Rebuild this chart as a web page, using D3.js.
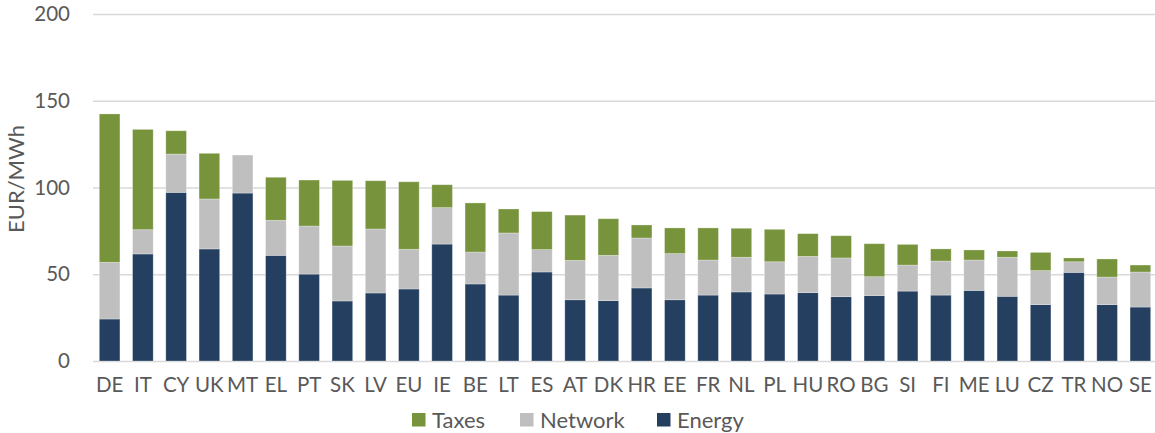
<!DOCTYPE html>
<html>
<head>
<meta charset="utf-8">
<script src="https://cdn.jsdelivr.net/npm/d3@7"></script>
<style>
  body { margin: 0; background: #fff; }
  svg text { font-family: Lato, "Open Sans", sans-serif; fill: #595959; }
</style>
</head>
<body>
<div id="chart"></div>
<script>
// values, EUR/MWh
var countries = ["DE", "IT", "CY", "UK", "MT", "EL", "PT", "SK", "LV", "EU", "IE", "BE", "LT", "ES", "AT", "DK",
  "HR", "EE", "FR", "NL", "PL", "HU", "RO", "BG", "SI", "FI", "ME", "LU", "CZ", "TR", "NO", "SE"];
var energy = [24.2, 61.7, 97.2, 64.6, 96.8, 60.9, 50.1, 34.6, 39.2, 41.5, 67.4, 44.4, 38.0, 51.3, 35.3, 34.8,
  42.1, 35.3, 38.0, 39.8, 38.6, 39.4, 37.1, 37.7, 40.3, 38.0, 40.7, 37.3, 32.5, 51.1, 32.5, 31.1];
var network = [32.7, 14.0, 22.1, 28.8, 21.9, 20.2, 27.7, 31.7, 36.9, 22.9, 21.0, 18.4, 35.8, 12.9, 22.7, 26.1,
  28.8, 26.6, 20.2, 20.0, 18.6, 20.9, 22.3, 10.9, 15.0, 19.6, 17.5, 22.5, 19.6, 6.1, 15.9, 20.2];
var taxes = [85.5, 57.8, 13.4, 26.3, 0, 24.8, 26.5, 37.8, 27.8, 38.9, 13.2, 28.3, 13.8, 21.9, 26.1, 21.1,
  7.5, 14.8, 18.5, 16.7, 18.7, 13.1, 12.8, 19.0, 11.9, 7.0, 5.8, 3.6, 10.5, 2.2, 10.4, 4.0];
var seriesNames = ["Energy", "Network", "Taxes"];
var seriesColors = ["#243F60", "#BFBFBF", "#77933C"];
var legendOrder = ["Taxes", "Network", "Energy"];
var yTicks = [0, 50, 100, 150, 200];

var width = 1155,
  height = 433;
var plotLeft = 93, plotRight = 1157, plotTop = 14, plotBottom = 361;

var svg = d3.select("#chart")
  .append("svg")
  .attr("width", width)
  .attr("height", height);

var rows = countries.map(function(c, i) {
  return { country: c, Energy: energy[i], Network: network[i], Taxes: taxes[i] };
});

var x = d3.scaleBand()
  .domain(countries)
  .range([plotLeft, plotRight])
  .paddingInner(0.38)
  .paddingOuter(0.19);

var y = d3.scaleLinear()
  .domain([0, 200])
  .range([plotBottom, plotTop]);

var color = d3.scaleOrdinal().domain(seriesNames).range(seriesColors);

// gridlines + y tick labels
var yAxis = svg.append("g")
  .attr("transform", "translate(" + plotLeft + ",0)")
  .call(d3.axisLeft(y).tickValues(yTicks).tickSize(-(width - plotLeft)).tickPadding(23));
yAxis.select(".domain").remove();
yAxis.selectAll(".tick line").attr("stroke", "#D9D9D9").attr("stroke-width", 1.5);
yAxis.selectAll(".tick text").attr("font-size", "20.5px").style("fill", "#595959");

var stack = d3.stack().keys(seriesNames);
var layers = stack(rows);

svg.append("g").selectAll("g")
  .data(layers)
  .enter()
  .append("g")
  .attr("fill", function(d) { return color(d.key); })
  .selectAll("rect")
  .data(function(d) { return d; })
  .enter()
  .append("rect")
  .attr("x", function(d) { return x(d.data.country); })
  .attr("y", function(d) { return y(d[1]); })
  .attr("width", x.bandwidth())
  .attr("height", function(d) { return y(d[0]) - y(d[1]); })
  .attr("stroke", "rgba(255,255,255,0.35)")
  .attr("stroke-width", 0.8);

// x labels
var xAxis = svg.append("g")
  .attr("transform", "translate(0," + plotBottom + ")")
  .call(d3.axisBottom(x).tickSize(0).tickPadding(16));
xAxis.select(".domain").remove();
xAxis.selectAll(".tick text").attr("font-size", "20.5px").style("fill", "#595959");

// y title
svg.append("text")
  .attr("transform", "translate(24,179) rotate(-90)")
  .attr("text-anchor", "middle")
  .attr("font-size", "22px")
  .text("EUR/MWh");

// legend
var legendX = [412, 520, 657];
var legend = svg.append("g").selectAll("g")
  .data(legendOrder)
  .enter()
  .append("g")
  .attr("transform", function(d, i) { return "translate(" + legendX[i] + ",413)"; });
legend.append("rect")
  .attr("width", 13.5)
  .attr("height", 13.5)
  .attr("fill", function(d) { return color(d); });
legend.append("text")
  .attr("x", 20)
  .attr("y", 7)
  .attr("dy", "0.36em")
  .attr("font-size", "22px")
  .text(function(d) { return d; });
</script>
</body>
</html>
